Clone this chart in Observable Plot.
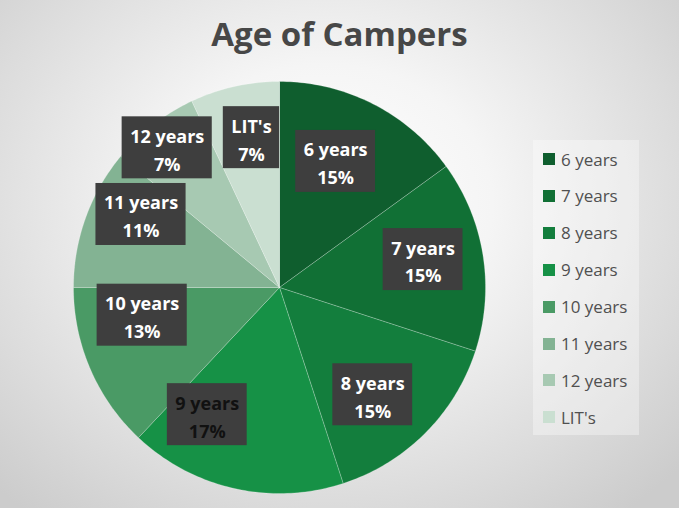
<!DOCTYPE html>
<html>
<head>
<meta charset="utf-8">
<script src="https://cdn.jsdelivr.net/npm/d3@7"></script>
<script src="https://cdn.jsdelivr.net/npm/@observablehq/plot@0.6"></script>
<style>
html, body { margin: 0; padding: 0; }
#chart {
  position: relative; width: 679px; height: 508px; overflow: hidden;
  background: radial-gradient(ellipse 70% 78% at 48% 40%, #ffffff 0%, #f5f5f5 35%, #dcdcdc 75%, #cccccc 100%);
  font-family: "Open Sans", sans-serif;
}
#title {
  position: absolute; left: 0; top: 12px; width: 679px; text-align: center;
  font-size: 33px; line-height: 44px; font-weight: bold; color: #474747;
}
#legend {
  position: absolute; left: 533px; top: 140px; width: 106px; height: 295px;
  background: rgba(255,255,255,0.35);
}
.item {
  position: absolute; left: 10px; height: 24px; display: flex; align-items: center;
  font-size: 17px; color: #505050; white-space: nowrap;
}
.sw { width: 12px; height: 12px; margin-right: 6px; flex: none; }
#plot svg { position: absolute; left: 0; top: 0; }
</style>
</head>
<body>
<div id="chart">
  <div id="title">Age of Campers</div>
  <div id="plot"></div>
  <div id="legend"></div>
</div>
<script>
// ---- data ----
const ages = ["6 years", "7 years", "8 years", "9 years", "10 years", "11 years", "12 years", "LIT's"];
const percents = [15, 15, 15, 17, 13, 11, 7, 7];

// ---- styles / layout ----
const colors = ["#0f5e2e", "#117035", "#137e3d", "#169146", "#4a9a65", "#83b393", "#a7c9b2", "#cadfd1"];
const labelTextColors = ["white", "white", "white", "#111111", "white", "white", "white", "white"];
const labelAngleNudge = [-3, -2, 4, 17, 12, 8, -1, 2];     // degrees (best-fit placement)
const labelRadius = [0.67, 0.71, 0.69, 0.71, 0.68, 0.76, 0.87, 0.74];
const R = 206; // pixels per data unit (pie radius)
const labelFont = "bold 18px 'Open Sans'";

// ---- pie geometry ----
const slices = [];
const labels = [];
const ctx = document.createElement("canvas").getContext("2d");
ctx.font = labelFont;
let cum = 0;
ages.forEach((age, i) => {
  const a0 = cum / 100 * 2 * Math.PI;
  cum += percents[i];
  const a1 = cum / 100 * 2 * Math.PI;
  const n = Math.max(2, Math.ceil((a1 - a0) / (Math.PI / 180)));
  slices.push({age, x: 0, y: 0});
  for (let k = 0; k <= n; k++) {
    const t = a0 + (a1 - a0) * k / n;
    slices.push({age, x: Math.sin(t), y: Math.cos(t)});
  }
  slices.push({age, x: 0, y: 0});
  const mid = (a0 + a1) / 2 + labelAngleNudge[i] * Math.PI / 180;
  const r = labelRadius[i];
  const x = r * Math.sin(mid), y = r * Math.cos(mid);
  const line1 = age, line2 = percents[i] + "%";
  const tw = Math.max(ctx.measureText(line1).width, ctx.measureText(line2).width);
  const w = (tw + 16) / R, h = 62 / R;
  labels.push({age, x, y, text: line1 + "\n" + line2, x1: x - w / 2, x2: x + w / 2, y1: y - h / 2, y2: y + h / 2, tc: labelTextColors[i]});
});

const plot = Plot.plot({
  width: 679, height: 508,
  marginLeft: 73, marginRight: 194, marginTop: 81, marginBottom: 15,
  x: {domain: [-1, 1], axis: null},
  y: {domain: [-1, 1], axis: null},
  color: {type: "ordinal", domain: ages, range: colors},
  style: {background: "transparent", overflow: "visible"},
  marks: [
    Plot.line(slices, {x: "x", y: "y", z: "age", fill: "age", stroke: "white", strokeOpacity: 0.22, strokeWidth: 1}),
    Plot.rect(labels, {x1: "x1", x2: "x2", y1: "y1", y2: "y2", fill: "#3e3e3e", ariaLabel: "labelbox"}),
    Plot.text(labels.filter(d => d.tc === "white"), {x: "x", y: "y", text: "text", fill: "white", fontSize: 18, fontWeight: "bold", fontFamily: "Open Sans", lineHeight: 1.55}),
    Plot.text(labels.filter(d => d.tc !== "white"), {x: "x", y: "y", text: "text", fill: "#111111", fontSize: 18, fontWeight: "bold", fontFamily: "Open Sans", lineHeight: 1.55})
  ]
});

// dotted texture + shadow for label boxes
const ns = "http://www.w3.org/2000/svg";
const defs = document.createElementNS(ns, "defs");
defs.innerHTML = `<pattern id="dots" width="3" height="3" patternUnits="userSpaceOnUse">
  <rect width="3" height="3" fill="#3c3c3c"></rect>
  <rect x="1" y="1" width="1" height="1" fill="#5a5a5a"></rect>
</pattern>`;
plot.insertBefore(defs, plot.firstChild);
plot.querySelectorAll('g[aria-label="labelbox"]').forEach(g => {
  g.style.filter = "drop-shadow(2px 2px 2px rgba(0,0,0,0.45))";
  g.querySelectorAll("rect").forEach(r => r.setAttribute("fill", "url(#dots)"));
});
document.getElementById("plot").appendChild(plot);

// legend
const legend = document.getElementById("legend");
ages.forEach((age, i) => {
  const item = document.createElement("div");
  item.className = "item";
  item.style.top = (19 + 36.9 * i - 12) + "px";
  item.innerHTML = `<span class="sw" style="background:${colors[i]}"></span><span>${age}</span>`;
  legend.appendChild(item);
});
</script>
</body>
</html>
